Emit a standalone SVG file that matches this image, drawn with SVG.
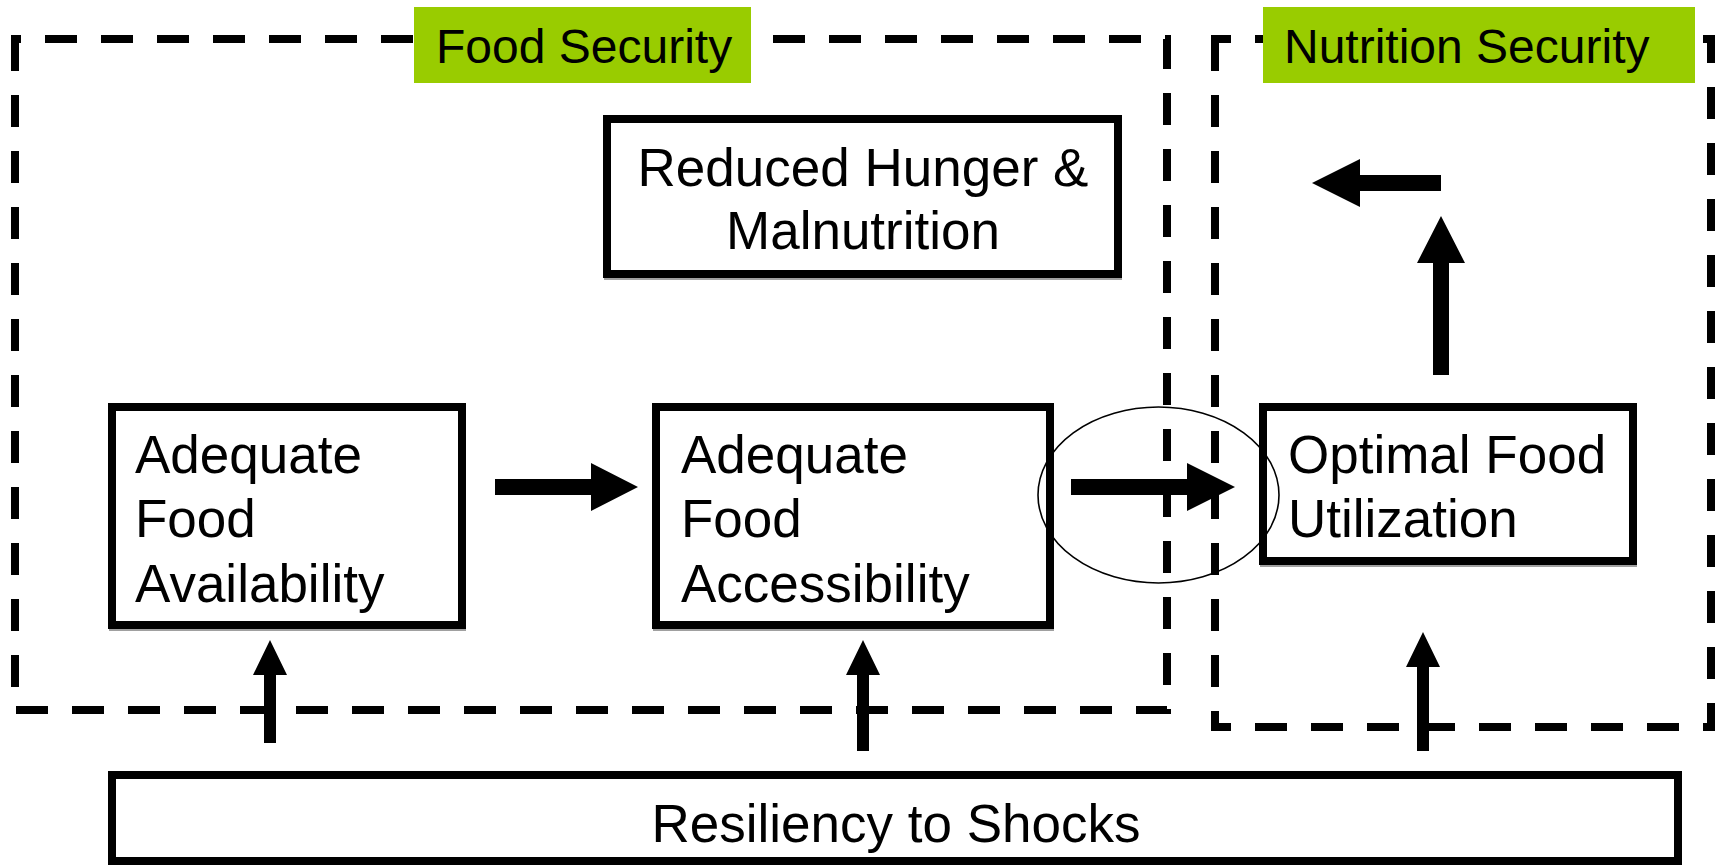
<svg xmlns="http://www.w3.org/2000/svg" width="1719" height="866" viewBox="0 0 1719 866">
<style>
.dash{fill:none;stroke:#000;stroke-width:8;stroke-dasharray:32 24;stroke-linecap:butt;stroke-linejoin:miter}
.box{fill:#fff;stroke:#000;stroke-width:8}
.shadow{fill:none;stroke:#a0a0a0;stroke-width:8}
.lbl{fill:#99cc00}
.t{font-family:"Liberation Sans",Arial,sans-serif;font-size:53px;fill:#000}
.h{font-family:"Liberation Sans",Arial,sans-serif;font-size:48px;fill:#000}
.mid{text-anchor:middle}
.arr{fill:#000}
</style>
<rect width="1719" height="866" fill="#fff"/>
<g id="food-security-region">
<path class="dash" d="M15,39 V710 H1167 V39 Z"/>
<rect class="lbl" x="414" y="7" width="337" height="76"/>
<text class="h" x="436" y="63">Food Security</text>
</g>
<g id="nutrition-security-region">
<path class="dash" d="M1215,39 V727 H1711 V39 Z"/>
<rect class="lbl" x="1263" y="7" width="432" height="76"/>
<text class="h" x="1284" y="63">Nutrition Security</text>
</g>
<g id="reduced-hunger">
<rect class="shadow" x="608" y="121" width="510" height="155"/>
<rect class="box" x="607" y="119" width="511" height="155"/>
<text class="t mid" x="863" y="186">Reduced Hunger &amp;</text>
<text class="t mid" x="863" y="249">Malnutrition</text>
</g>
<g id="availability">
<rect class="shadow" x="113" y="409" width="349" height="218"/>
<rect class="box" x="112" y="407" width="350" height="218"/>
<text class="t" x="135" y="473">Adequate</text>
<text class="t" x="135" y="537">Food</text>
<text class="t" x="135" y="602">Availability</text>
</g>
<g id="accessibility">
<rect class="shadow" x="657" y="409" width="393" height="218"/>
<rect class="box" x="656" y="407" width="394" height="218"/>
<text class="t" x="681" y="473">Adequate</text>
<text class="t" x="681" y="537">Food</text>
<text class="t" x="681" y="602">Accessibility</text>
</g>
<g id="utilization">
<rect class="shadow" x="1264" y="409" width="369" height="154"/>
<rect class="box" x="1263" y="407" width="370" height="154"/>
<text class="t" x="1288" y="473">Optimal Food</text>
<text class="t" x="1288" y="537">Utilization</text>
</g>
<g id="resiliency">
<rect class="box" x="112" y="775" width="1566" height="86"/>
<text class="t mid" x="896" y="842">Resiliency to Shocks</text>
</g>
<g id="connectors">
<ellipse cx="1158.5" cy="495" rx="120.5" ry="88" fill="none" stroke="#000" stroke-width="1.6"/>
<polygon class="arr" points="495,479 591,479 591,463 638,487 591,511 591,495 495,495"/>
<polygon class="arr" points="1071,479 1187,479 1187,463 1235,487 1187,511 1187,495 1071,495"/>
<polygon class="arr" points="1441,175 1360,175 1360,159 1312,183 1360,207 1360,191 1441,191"/>
<polygon class="arr" points="1433,375 1433,263 1417,263 1441,216 1465,263 1449,263 1449,375"/>
<polygon class="arr" points="264,743 264,675 253,675 270,640 287,675 276,675 276,743"/>
<polygon class="arr" points="857,751 857,675 846,675 863,640 880,675 869,675 869,751"/>
<polygon class="arr" points="1417,751 1417,667 1406,667 1423,632 1440,667 1429,667 1429,751"/>
</g>
</svg>
